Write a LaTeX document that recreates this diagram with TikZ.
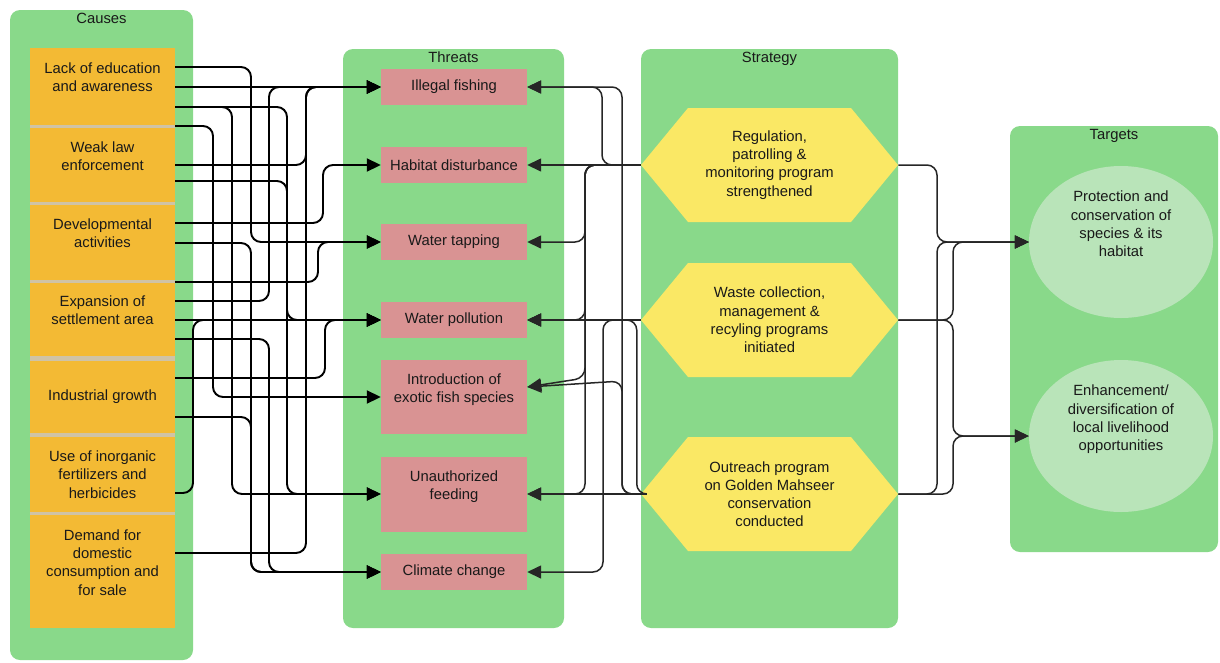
\documentclass[tikz,border=0pt]{standalone}
\usepackage{fontspec}
\setmainfont{Liberation Sans}
\usetikzlibrary{shapes, arrows.meta, positioning}

\definecolor{panelgreen}{HTML}{89D98A}
\definecolor{causeorange}{HTML}{F3BA34}
\definecolor{seamgray}{HTML}{CFC3A6}
\definecolor{threatpink}{HTML}{D99393}
\definecolor{strategyyellow}{HTML}{FAE865}
\definecolor{targetgreen}{HTML}{B9E4B9}

\begin{document}
\begin{tikzpicture}[x=1pt, y=-1pt, every node/.style={font=\fontsize{14.8}{18.2}\selectfont, text=black!90}]
	\tikzstyle{panel_style}=[rectangle, fill=panelgreen, rounded corners=10pt, inner sep=0pt]
	\tikzstyle{cause_style}=[rectangle, fill=causeorange, minimum width=145pt, align=center, inner sep=0pt]
	\tikzstyle{threat_style}=[rectangle, fill=threatpink, minimum width=146pt, minimum height=36pt, align=center, inner sep=0pt]
	\tikzstyle{strategy_style}=[signal, signal to=west and east, signal pointer angle=101, fill=strategyyellow, minimum width=257pt, minimum height=114pt, align=center, inner sep=0pt]
	\tikzstyle{target_style}=[ellipse, fill=targetgreen, minimum width=184pt, minimum height=152pt, align=center, inner sep=0pt]
	\tikzstyle{cause_link}=[line width=1.9pt, rounded corners=10pt, -{Triangle[length=14pt, width=13pt]}]
	\tikzstyle{strategy_link}=[draw=black!85, line width=1.5pt, rounded corners=10pt, -{Triangle[length=14pt, width=13pt]}]

	\useasboundingbox (0,0) rectangle (1220,662);

	% panels
	\node at (101.5,335) [panel_style, minimum width=183pt, minimum height=650pt] (causes_panel) {};
	\node at (causes_panel.north) [below, inner sep=3pt] {Causes};
	\node at (453.5,338.5) [panel_style, minimum width=221pt, minimum height=579pt] (threats_panel) {};
	\node at (threats_panel.north) [below, inner sep=2.5pt] {Threats};
	\node at (769.5,338.5) [panel_style, minimum width=257pt, minimum height=579pt] (strategy_panel) {};
	\node at (strategy_panel.north) [below, inner sep=3pt] {Strategy};
	\node at (1114,339) [panel_style, minimum width=208pt, minimum height=426pt] (targets_panel) {};
	\node at (targets_panel.north) [below, inner sep=3pt] {Targets};

	% causes
	\fill[seamgray] (30,120) rectangle (175,520);
	\node at (102.5,86.5) [cause_style, minimum height=77pt] (cause_1) {Lack of education\\and awareness\\ \mbox{}};
	\node at (102.5,165) [cause_style, minimum height=74pt] (cause_2) {Weak law\\enforcement\\ \mbox{}};
	\node at (102.5,242.5) [cause_style, minimum height=75pt] (cause_3) {Developmental\\activities\\ \mbox{}};
	\node at (102.5,319.5) [cause_style, minimum height=73pt] (cause_4) {Expansion of\\settlement area\\ \mbox{}};
	\node at (102.5,397) [cause_style, minimum height=72pt] (cause_5) {Industrial growth};
	\node at (102.5,474.5) [cause_style, minimum height=75pt] (cause_6) {Use of inorganic\\fertilizers and\\herbicides};
	\node at (102.5,571.5) [cause_style, minimum height=113pt] (cause_7) {Demand for\\domestic\\consumption and\\for sale\\ \mbox{}};

	% threats
	\node at (454,87) [threat_style] (threat_1) {Illegal fishing};
	\node at (454,165) [threat_style] (threat_2) {Habitat disturbance};
	\node at (454,242) [threat_style] (threat_3) {Water tapping};
	\node at (454,320) [threat_style] (threat_4) {Water pollution};
	\node at (454,397) [threat_style, minimum height=74pt] (threat_5) {Introduction of\\exotic fish species\\ \mbox{}};
	\node at (454,494) [threat_style, minimum height=75pt] (threat_6) {Unauthorized\\feeding\\ \mbox{}};
	\node at (454,572) [threat_style] (threat_7) {Climate change};

	% strategy
	\node at (769.5,165) [strategy_style] (strategy_1) {Regulation,\\patrolling \&\\monitoring program\\strengthened};
	\node at (769.5,320) [strategy_style] (strategy_2) {Waste collection,\\management \&\\recyling programs\\initiated};
	\node at (769.5,494) [strategy_style] (strategy_3) {Outreach program\\on Golden Mahseer\\conservation\\conducted};

	% targets
	\node at (1121,242) [target_style] (target_1) {Protection and\\conservation of\\species \& its\\habitat\\ \mbox{}\\ \mbox{}};
	\node at (1121,436) [target_style] (target_2) {Enhancement/\\diversification of\\local livelihood\\opportunities\\ \mbox{}\\ \mbox{}};

	% connect: causes -> threats
	\draw[cause_link] (cause_1.east |- threat_1.west) -- (threat_1.west);
	\draw[cause_link] (cause_4.east |- threat_4.west) -- (threat_4.west);
	\foreach \src/\sy/\tx/\dst in {cause_1/67/251/threat_3, cause_1/107/232/threat_6, cause_1/107/287/threat_4,
		cause_2/126/213/threat_5, cause_2/165/306/threat_1, cause_2/181/287/threat_6,
		cause_3/223/323/threat_2, cause_3/243/251/threat_7,
		cause_4/282/318/threat_3, cause_4/301/269/threat_1, cause_4/339/269/threat_7,
		cause_5/378/325/threat_4, cause_5/417/251/threat_7,
		cause_6/493/193/threat_4, cause_7/553/306/threat_1}
		\draw[cause_link] (\src.east |- 0,\sy) -| (\tx,0 |- \dst.west) -- (\dst.west);

	% connect: strategy -> threats
	\draw[strategy_link] (strategy_1.west) -- (threat_2.east);
	\draw[strategy_link] (strategy_2.west) -- (threat_4.east);
	\draw[strategy_link] (strategy_3.west) -- (threat_6.east);
	\foreach \src/\tx/\dst in {strategy_1/602/threat_1, strategy_1/585/threat_3, strategy_1/585/threat_4,
		strategy_1/585/threat_6, strategy_2/603/threat_7, strategy_3/622/threat_1}
		\draw[strategy_link] (\src.west) -| (\tx,0 |- \dst.east) -- (\dst.east);
	\draw[strategy_link] (strategy_1.west) -| (585,378) -- (threat_5.east |- 0,387);
	\draw[strategy_link] (strategy_3.west) -| (622,381) -- (threat_5.east |- 0,387);
	\draw[strategy_link] (strategy_3.west) -- ++(-4,0) |- (threat_4.east);

	% connect: strategy -> targets
	\foreach \src/\tx/\dst in {strategy_1/937/target_1, strategy_2/953/target_1, strategy_2/953/target_2,
		strategy_3/937/target_1, strategy_3/953/target_2}
		\draw[strategy_link] (\src.east) -| (\tx,0 |- \dst.west) -- (\dst.west);

\end{tikzpicture}
\end{document}
